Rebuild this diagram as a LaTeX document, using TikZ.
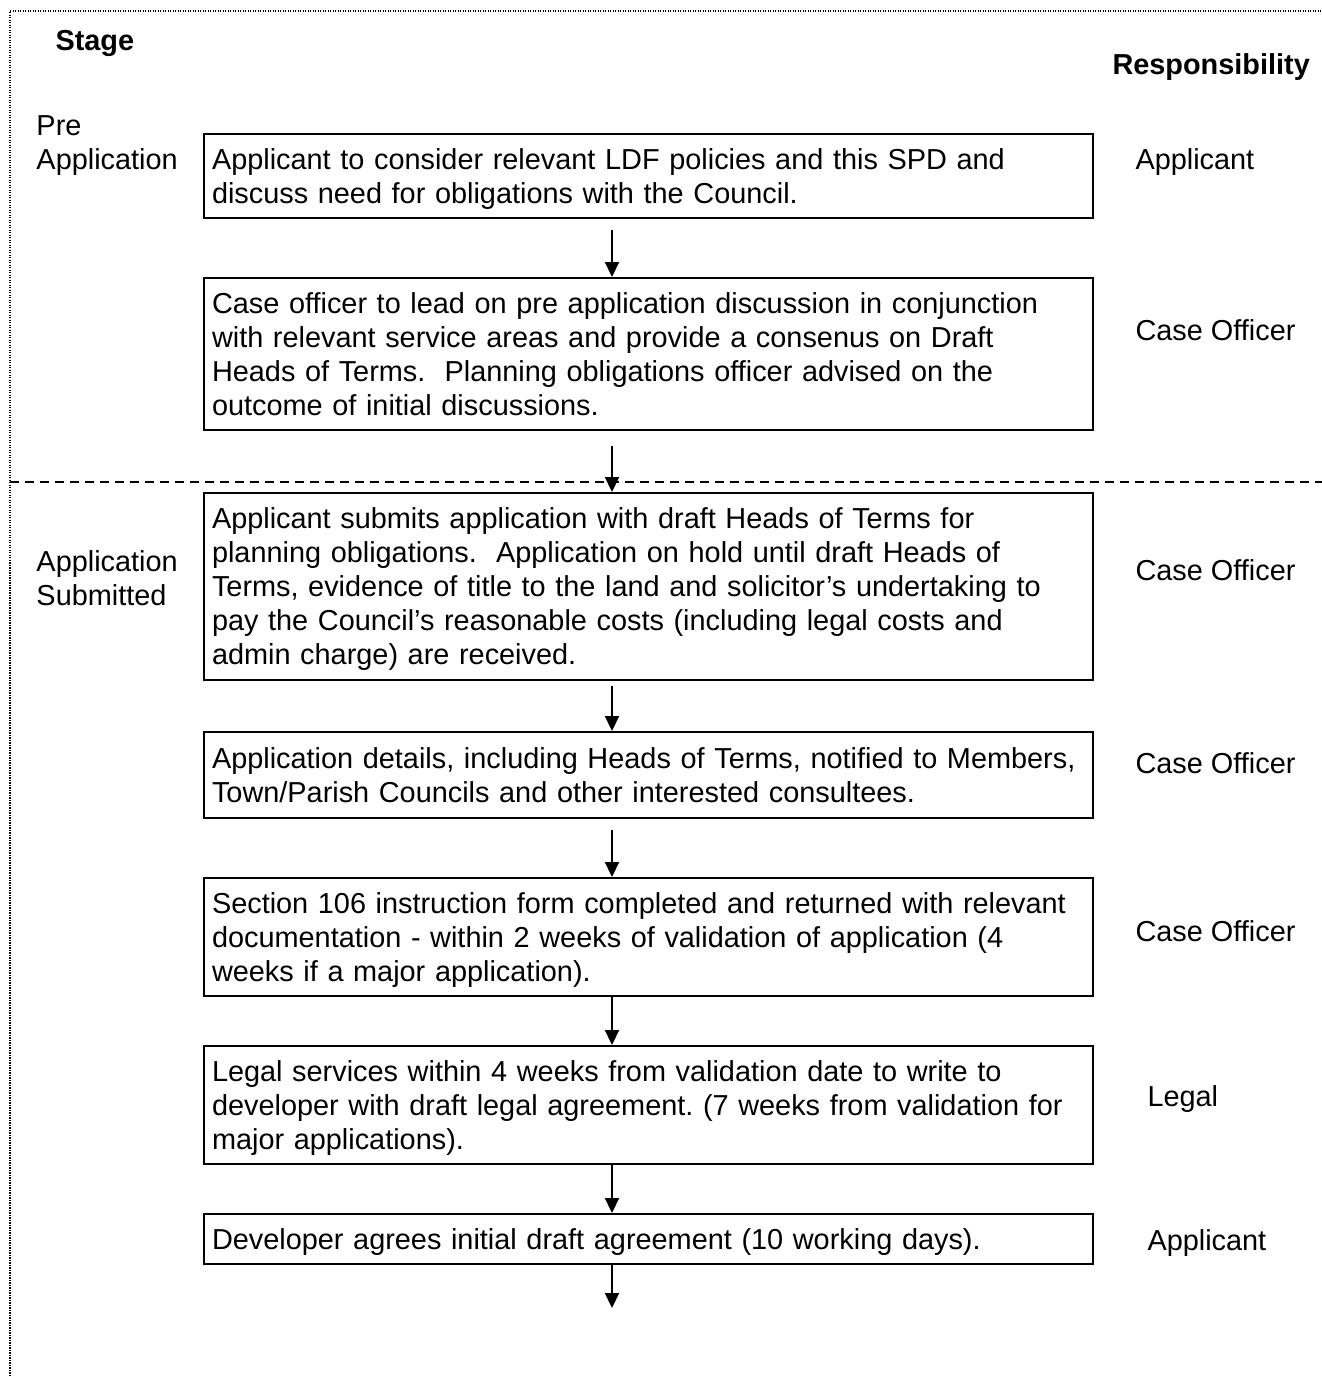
\documentclass[tikz,border=0pt]{standalone}
\usepackage{fontspec}
\setmainfont{Liberation Sans}
\usetikzlibrary{arrows.meta}
\begin{document}
\begin{tikzpicture}
[x=0.4pt, y=-0.4pt, font=\fontsize{11.55}{13.6}\selectfont\frenchspacing]
\tikzstyle{stepbox}=[draw, line width=0.8pt, anchor=north west, inner xsep=3.2pt, inner ysep=0pt, text width=349.2pt, align=left,
  execute at begin node={\hyphenpenalty=10000\rule{0pt}{11.3pt}}, execute at end node={\rule[-3pt]{0pt}{0pt}}]
\tikzstyle{tag}=[anchor=west, inner sep=0pt, align=left]
\tikzstyle{flow}=[-{Triangle[length=6pt, width=5.6pt]}, line width=0.8pt]
\useasboundingbox (0,0) rectangle (1322,1376);

% frame and stage divider
\draw[line width=0.5pt, dash pattern=on 0.5pt off 0.5pt] (10,1376) -- (10,11) -- (1322,11);
\draw[line width=0.6pt, dash pattern=on 3.6pt off 2.4pt] (10,482) -- (1322,482);

\node[tag]	(stage)	at (55,43)	{\textbf{Stage}};
\node[tag]	(resp)	at (1112,67)	{\textbf{Responsibility}};
\node[tag]	(pre)	at (36,146)	{Pre\\Application};
\node[tag]	(submitted)	at (36,578)	{Application\\Submitted};

\node[stepbox, minimum height=33.6pt]	(consider)	at (203,133)	{Applicant to consider relevant LDF policies and this SPD and\\discuss need for obligations with the Council.};
\node[stepbox, minimum height=60.8pt]	(lead)	at (203,277)	{Case officer to lead on pre application discussion in conjunction\\with relevant service areas and provide a consenus on Draft\\Heads of Terms.~ Planning obligations officer advised on the\\outcome of initial discussions.};
\node[stepbox, minimum height=74.8pt]	(submit)	at (203,492)	{Applicant submits application with draft Heads of Terms for\\planning obligations.~ Application on hold until draft Heads of\\Terms, evidence of title to the land and solicitor’s undertaking to\\pay the Council’s reasonable costs (including legal costs and\\admin charge) are received.};
\node[stepbox, minimum height=34.4pt]	(notify)	at (203,731)	{Application details, including Heads of Terms, notified to Members,\\Town/Parish Councils and other interested consultees.};
\node[stepbox, minimum height=47.2pt]	(instruct)	at (203,877)	{Section 106 instruction form completed and returned with relevant\\documentation - within 2 weeks of validation of application (4\\weeks if a major application).};
\node[stepbox, minimum height=47.2pt]	(legal)	at (203,1045)	{Legal services within 4 weeks from validation date to write to\\developer with draft legal agreement. (7 weeks from validation for\\major applications).};
\node[stepbox, minimum height=20pt]	(agree)	at (203,1213)	{Developer agrees initial draft agreement (10 working days).};

\node[tag]	(who1)	at (1135,162)	{Applicant};
\node[tag]	(who2)	at (1135,330)	{Case Officer};
\node[tag]	(who3)	at (1135,570)	{Case Officer};
\node[tag]	(who4)	at (1135,763)	{Case Officer};
\node[tag]	(who5)	at (1135,931)	{Case Officer};
\node[tag]	(who6)	at (1147,1099)	{Legal};
\node[tag]	(who7)	at (1147,1243)	{Applicant};

\coordinate (spine) at (612,0);
\coordinate (next) at (612,1308);
\draw[flow, shorten <=4.4pt]	(consider.south -| spine) -- (lead.north -| spine);
\draw[flow, shorten <=6pt]	(lead.south -| spine) -- (submit.north -| spine);
\draw[flow, shorten <=2pt]	(submit.south -| spine) -- (notify.north -| spine);
\draw[flow, shorten <=4.4pt]	(notify.south -| spine) -- (instruct.north -| spine);
\draw[flow]	(instruct.south -| spine) -- (legal.north -| spine);
\draw[flow]	(legal.south -| spine) -- (agree.north -| spine);
\draw[flow]	(agree.south -| spine) -- (next);
\end{tikzpicture}
\end{document}
